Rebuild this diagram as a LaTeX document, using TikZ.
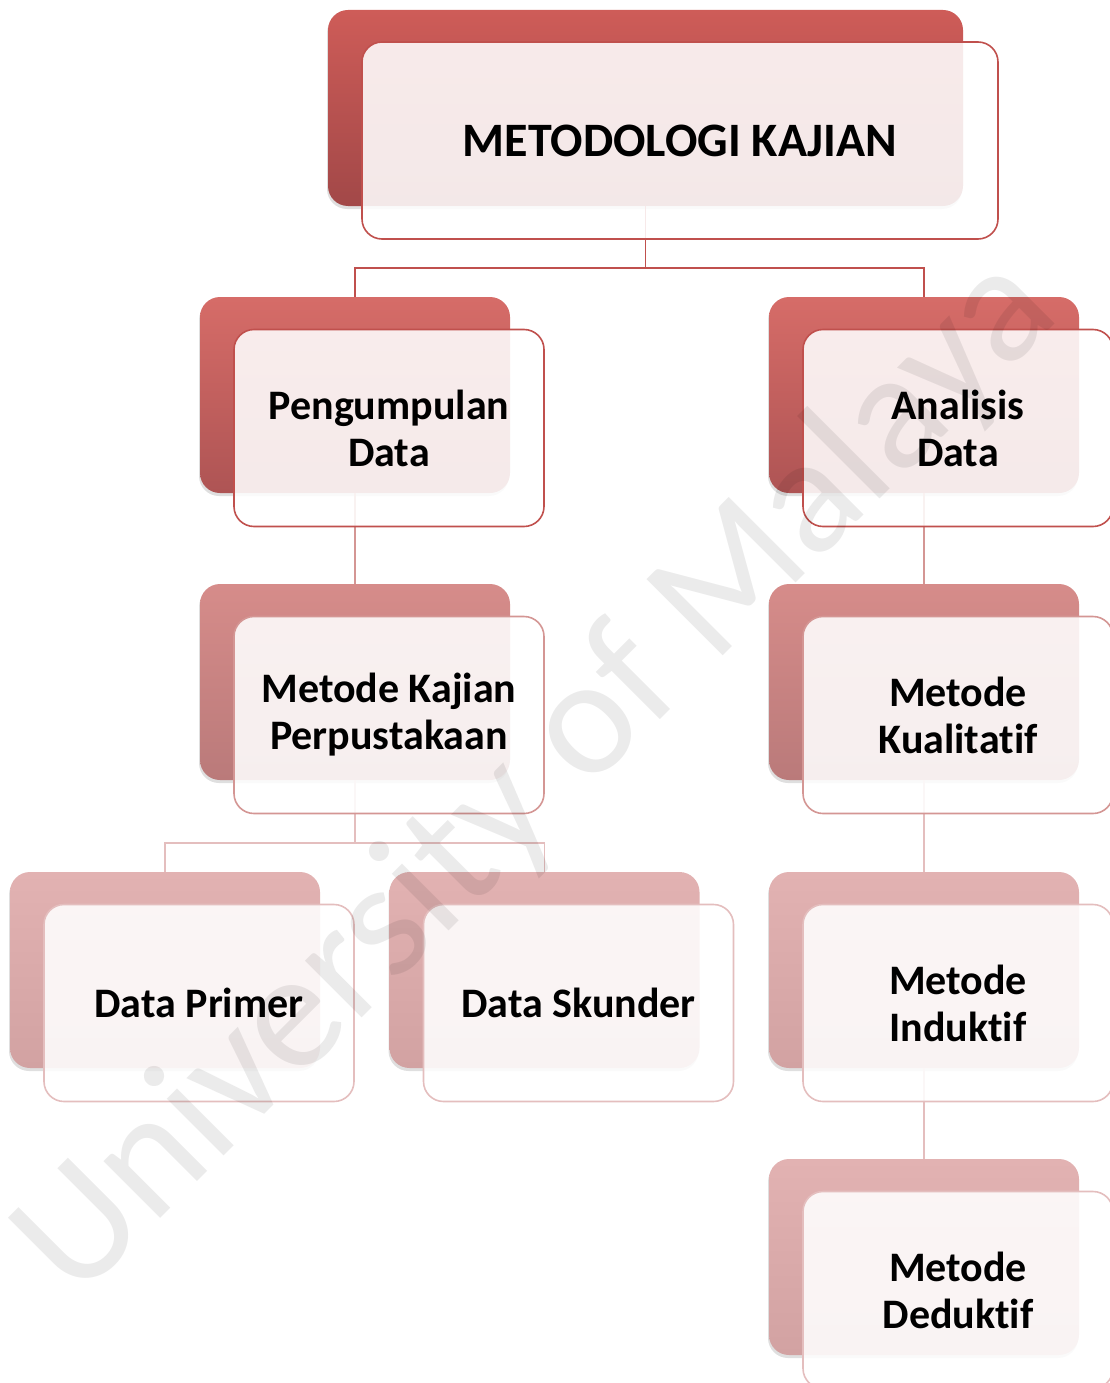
\documentclass[tikz,border=0pt]{standalone}
\usepackage{fontspec}
\setmainfont{Carlito}[Ligatures=NoCommon]
\usetikzlibrary{shadows}
\definecolor{rootTop}{RGB}{206,92,88}
\definecolor{rootBot}{RGB}{162,72,72}
\definecolor{oneTop}{RGB}{214,108,104}
\definecolor{oneBot}{RGB}{174,84,84}
\definecolor{twoTop}{RGB}{214,140,138}
\definecolor{twoBot}{RGB}{186,122,122}
\definecolor{thrTop}{RGB}{226,178,178}
\definecolor{thrBot}{RGB}{210,162,162}
\definecolor{edgeA}{RGB}{192,80,77}
\definecolor{edgeB}{RGB}{212,150,148}
\definecolor{edgeC}{RGB}{228,190,190}

\begin{document}
\begin{tikzpicture}[x=1pt,y=-1pt]
				\tikzstyle{back}=[rounded corners=20pt,inner sep=0pt,minimum width=310pt,minimum height=196pt,
				drop shadow={shadow xshift=-1pt,shadow yshift=-3pt,opacity=0.25}]
				\tikzstyle{front}=[draw,rounded corners=20pt,line width=1.6pt,fill=white,fill opacity=0.88,
				text=black,text opacity=1,inner sep=0pt,minimum width=310pt,minimum height=197pt,align=center,
				font=\fontsize{42}{47}\selectfont\bfseries]
				\tikzstyle{lev0}=[top color=rootTop,bottom color=rootBot]
				\tikzstyle{lev1}=[top color=oneTop,bottom color=oneBot]
				\tikzstyle{lev2}=[top color=twoTop,bottom color=twoBot]
				\tikzstyle{lev3}=[top color=thrTop,bottom color=thrBot]
				\tikzstyle{link}=[line width=1.6pt]
				\useasboundingbox (0,0) rectangle (1110,1383);
				\node[back,lev0,minimum width=635pt] (metb) at (645.5,108) {};
				\node[back,lev1] (pengb) at (355,395) {};
				\node[back,lev1] (anab) at (924,395) {};
				\node[back,lev2] (kajb) at (355,682) {};
				\node[back,lev2] (kualb) at (924,682) {};
				\node[back,lev3] (primb) at (165,970) {};
				\node[back,lev3] (skunb) at (544.5,970) {};
				\node[back,lev3] (indb) at (924,970) {};
				\node[back,lev3] (dedb) at (924,1257) {};
				\draw[link,edgeA] (metb.south) -- ++(0,62) -| (pengb.north);
				\draw[link,edgeA] (metb.south) -- ++(0,62) -| (anab.north);
				\draw[link,edgeB] (pengb.south) -- (kajb.north);
				\draw[link,edgeB] (anab.south) -- (kualb.north);
				\draw[link,edgeC] (kajb.south) -- ++(0,63) -| (primb.north);
				\draw[link,edgeC] (kajb.south) -- ++(0,63) -| (skunb.north);
				\draw[link,edgeC] (kualb.south) -- (indb.north);
				\draw[link,edgeC] (indb.south) -- (dedb.north);
				\node[front,draw=edgeA,minimum width=636pt,font=\fontsize{48}{56}\selectfont\bfseries] (met)
				at ([shift={(34.5,32.5)}]metb) {METODOLOGI KAJIAN};
				\node[front,draw=edgeA] (peng) at ([shift={(34,33)}]pengb) {Pengumpulan\\Data};
				\node[front,draw=edgeA] (ana) at ([shift={(34,33)}]anab) {Analisis\\Data};
				\node[front,draw=edgeB] (kaj) at ([shift={(34,33)}]kajb) {Metode Kajian\\Perpustakaan};
				\node[front,draw=edgeB] (kual) at ([shift={(34,33)}]kualb) {Metode\\Kualitatif};
				\node[front,draw=edgeC] (prim) at ([shift={(34,33)}]primb) {Data Primer};
				\node[front,draw=edgeC] (skun) at ([shift={(34,33)}]skunb) {Data Skunder};
				\node[front,draw=edgeC] (ind) at ([shift={(34,33)}]indb) {Metode\\Induktif};
				\node[front,draw=edgeC] (ded) at ([shift={(34,33)}]dedb) {Metode\\Deduktif};
				\node[rotate=45,text=black,text opacity=0.08,font=\fontsize{168}{168}\selectfont] (mark)
				at (538,778) {University of Malaya};
\end{tikzpicture}
\end{document}
